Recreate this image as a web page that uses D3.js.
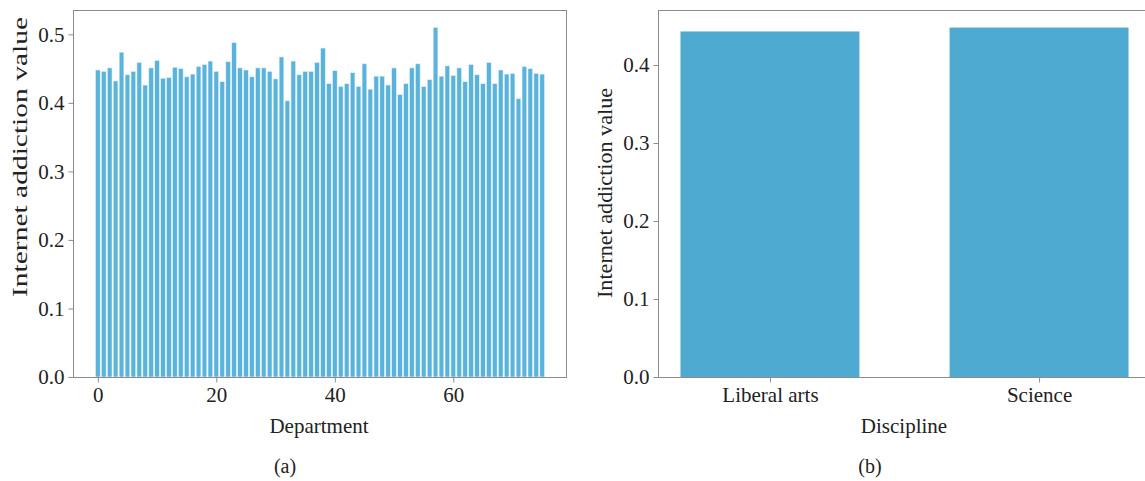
<!DOCTYPE html>
<html>
<head>
<meta charset="utf-8">
<script src="https://cdn.jsdelivr.net/npm/d3@7"></script>
<style>
  body { margin: 0; background: #fff; }
  svg text { font-family: "Liberation Serif", "DejaVu Serif", serif; fill: #222; }
</style>
</head>
<body>
<div id="vis"></div>
<script>
const width = 1145;
const height = 481;

// (a) internet addiction value per department, 0..75
const deptValues = [
  0.448, 0.446, 0.451, 0.432, 0.474, 0.441, 0.446, 0.459, 0.426, 0.451,
  0.462, 0.436, 0.437, 0.452, 0.450, 0.438, 0.442, 0.453, 0.456, 0.461,
  0.446, 0.431, 0.460, 0.488, 0.451, 0.448, 0.438, 0.451, 0.451, 0.446,
  0.435, 0.467, 0.403, 0.461, 0.441, 0.446, 0.446, 0.459, 0.480, 0.428,
  0.447, 0.424, 0.428, 0.444, 0.424, 0.457, 0.420, 0.439, 0.439, 0.426,
  0.451, 0.412, 0.428, 0.451, 0.457, 0.424, 0.434, 0.510, 0.439, 0.454,
  0.440, 0.451, 0.431, 0.456, 0.441, 0.428, 0.459, 0.428, 0.448, 0.442,
  0.443, 0.406, 0.453, 0.450, 0.443, 0.442
];
const deptTicks = [0, 20, 40, 60];
const deptYTicks = [0.0, 0.1, 0.2, 0.3, 0.4, 0.5];

// (b) by discipline
const disciplines = ["Liberal arts", "Science"];
const disciplineValues = [0.443, 0.448];
const discYTicks = [0.0, 0.1, 0.2, 0.3, 0.4];

const svg = d3.select("#vis").append("svg")
  .attr("width", width)
  .attr("height", height);

const frameColor = "#8c8c8c";

function drawPanel(opts) {
  const g = svg.append("g");
  const { x, y } = opts;
  const [x0, x1] = x.range();
  const [y0, y1] = y.range();

  // bars
  g.append("g").selectAll("rect")
    .data(opts.data)
    .join("rect")
    .attr("x", d => x(d.pos - opts.barWidth / 2))
    .attr("width", d => x(d.pos + opts.barWidth / 2) - x(d.pos - opts.barWidth / 2))
    .attr("y", d => y(d.value))
    .attr("height", d => y(0) - y(d.value))
    .attr("fill", opts.color)
    .attr("stroke", opts.stroke || "none")
    .attr("stroke-width", opts.strokeWidth || 0);

  // frame
  const frame = g.append("g").attr("fill", "none").attr("stroke", frameColor).attr("stroke-width", 1);
  frame.append("line").attr("x1", x0).attr("x2", x1).attr("y1", y1 + 0.5).attr("y2", y1 + 0.5);
  frame.append("line").attr("x1", x0).attr("x2", x1).attr("y1", y0 + 0.5).attr("y2", y0 + 0.5);
  frame.append("line").attr("x1", x0 + 0.5).attr("x2", x0 + 0.5).attr("y1", y1).attr("y2", y0);
  if (opts.rightEdge) {
    frame.append("line").attr("x1", x1 - 0.5).attr("x2", x1 - 0.5).attr("y1", y1).attr("y2", y0);
  }

  // y axis
  const yAxis = g.append("g")
    .attr("transform", `translate(${x0 + 0.5},0)`)
    .call(d3.axisLeft(y).tickValues(opts.yTicks).tickFormat(d3.format(".1f")).tickSize(5).tickPadding(4));
  yAxis.select(".domain").remove();
  yAxis.selectAll(".tick line").attr("stroke", frameColor);
  yAxis.selectAll(".tick text").style("font-size", "21px").attr("fill", "#222");

  // x axis
  const xAxis = g.append("g")
    .attr("transform", `translate(0,${y0 + 0.5})`)
    .call(d3.axisBottom(x).tickValues(opts.xTicks).tickFormat(opts.xFormat).tickSize(5).tickPadding(5));
  xAxis.select(".domain").remove();
  xAxis.selectAll(".tick line").attr("stroke", frameColor);
  xAxis.selectAll(".tick text").style("font-size", "21px").attr("fill", "#222");

  // labels
  g.append("text")
    .attr("transform", `translate(${opts.yLabelX},${opts.yLabelY}) rotate(-90)`)
    .attr("text-anchor", "middle")
    .attr("dy", "0.35em")
    .attr("textLength", opts.yLabelLength)
    .attr("lengthAdjust", "spacingAndGlyphs")
    .style("font-size", "20px")
    .text("Internet addiction value");

  g.append("text")
    .attr("x", opts.xLabelX)
    .attr("y", 433)
    .attr("text-anchor", "middle")
    .style("font-size", "21px")
    .text(opts.xLabel);

  g.append("text")
    .attr("x", opts.captionX)
    .attr("y", 473)
    .attr("text-anchor", "middle")
    .style("font-size", "20px")
    .text(opts.caption);
}

// panel (a)
const xA = d3.scaleLinear().domain([-4.19, 79.19]).range([73, 567]);
const yA = d3.scaleLinear().domain([0, 0.5355]).range([377, 10]);
drawPanel({
  x: xA, y: yA,
  data: deptValues.map((v, i) => ({ pos: i, value: v })),
  barWidth: 0.8,
  color: "#5ab3da",
  stroke: "#e8f4fa",
  strokeWidth: 0.6,
  yTicks: deptYTicks,
  xTicks: deptTicks,
  xFormat: d3.format("d"),
  yLabelX: 20,
  yLabelY: 157,
  yLabelLength: 280,
  xLabelX: 319,
  xLabel: "Department",
  captionX: 285,
  caption: "(a)",
  rightEdge: true
});

// panel (b)
const xB = d3.scaleLinear().domain([-0.416, 1.416]).range([658, 1151]);
const yB = d3.scaleLinear().domain([0, 0.4705]).range([377, 10]);
drawPanel({
  x: xB, y: yB,
  data: disciplineValues.map((v, i) => ({ pos: i, value: v })),
  barWidth: 0.665,
  color: "#4eaad0",
  yTicks: discYTicks,
  xTicks: d3.range(disciplines.length),
  xFormat: i => disciplines[i],
  yLabelX: 605,
  yLabelY: 193,
  yLabelLength: 210,
  xLabelX: 904,
  xLabel: "Discipline",
  captionX: 870,
  caption: "(b)",
  rightEdge: false
});
</script>
</body>
</html>
